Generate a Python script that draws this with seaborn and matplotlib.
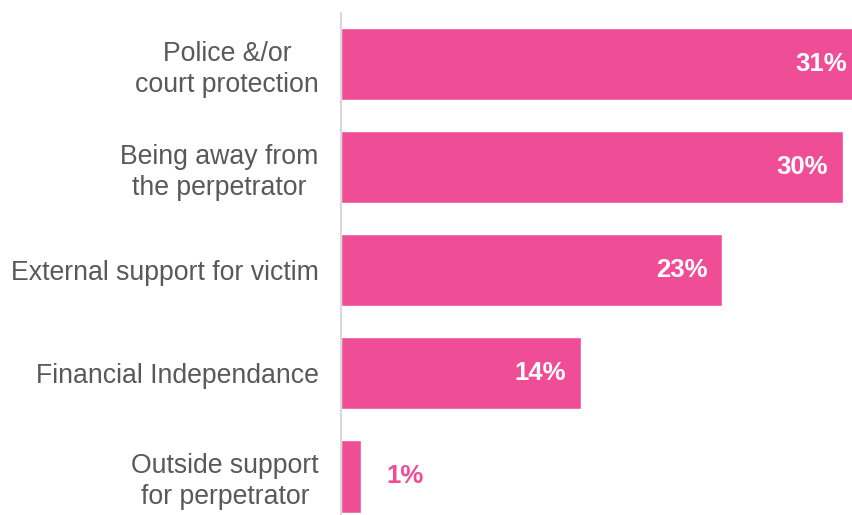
import matplotlib
matplotlib.use("Agg")
import matplotlib.pyplot as plt
import seaborn as sns
import pandas as pd

categories = ["Police &/or\ncourt protection", "Being away from\nthe perpetrator",
              "External support for victim", "Financial Independance",
              "Outside support\nfor perpetrator"]
values = [31.0, 29.9, 22.7, 14.3, 1.2]
labels = ["31%", "30%", "23%", "14%", "1%"]

PINK = "#EF4E97"
GRAY = "#595959"

sns.set_theme(style="white")
plt.rcParams['font.family'] = ['Liberation Sans', 'DejaVu Sans']

df = pd.DataFrame({"cat": categories, "val": values})
fig = plt.figure(figsize=(8.53, 5.15), dpi=100)
ax = fig.add_axes([341/853, 0, 1 - 341/853, (515-13)/515])
sns.barplot(data=df, x="val", y="cat", orient="h", color=PINK, saturation=1,
            width=0.70, ax=ax)
ax.set_xlim(0, 30.48)
ax.set_ylim(4.374, -0.495)
ax.set_xlabel("")
ax.set_ylabel("")
ax.set_xticks([])
for s in ["top", "right", "bottom"]:
    ax.spines[s].set_visible(False)
ax.spines["left"].set_color("#D9D9D9")
ax.spines["left"].set_linewidth(1.5)
ax.tick_params(axis="y", length=0, pad=16, labelsize=19.2, labelcolor=GRAY)
for t in ax.get_yticklabels():
    t.set_multialignment("center")
    t.set_linespacing(1.25)

for i, (v, lab) in enumerate(zip(values, labels)):
    if v > 5:
        ax.text(v - 0.9, i, lab, ha="right", va="center", color="white",
                fontsize=18.5, fontweight="bold")
    else:
        ax.text(v + 1.5, i, lab, ha="left", va="center", color=PINK,
                fontsize=18.5, fontweight="bold")

fig.savefig("out.png", dpi=100)
